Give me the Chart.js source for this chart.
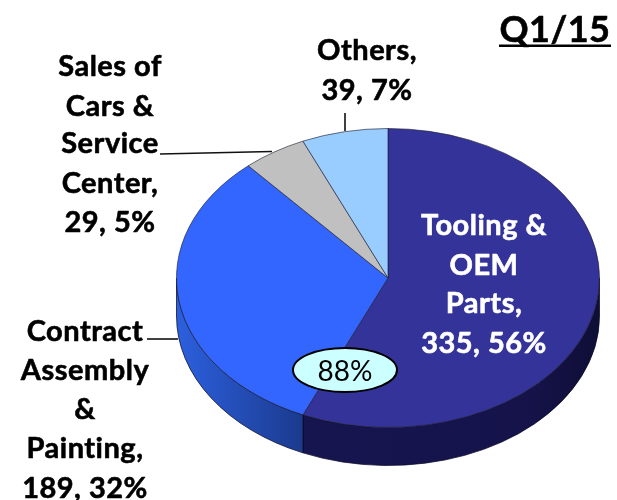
<!DOCTYPE html>
<html><head><meta charset="utf-8">
<style>html,body{margin:0;padding:0;background:#fff}canvas{display:block;filter:blur(0.45px)}</style>
<script src="https://cdn.jsdelivr.net/npm/chart.js@4"></script>
</head><body><canvas id="c" width="617" height="500"></canvas>
<script>
const categories = ['Tooling & OEM Parts','Contract Assembly & Painting','Sales of Cars & Service Center','Others'];
const values = [335,189,29,39];
const percents = [56,32,5,7];
const sliceColors = ['#333399','#3366ff','#c0c0c0','#99ccff'];
const toolingLines = ['Tooling &','OEM','Parts,'];
const contractLines = ['Contract','Assembly','&','Painting,'];
const salesLines = ['Sales of','Cars &','Service','Center,'];
const othersLines = ['Others,'];
const periodLabel = 'Q1/15';
const badgeLabel = '88%';

const FACE = {cy:278, ry:149.5, depth:38};
const FONT = '"Lato","Carlito","Open Sans",sans-serif';

function valueLine(i){ return values[i]+', '+percents[i]+'%'; }

const pie3d = {
  id:'pie3d',
  beforeDatasetDraw(chart){
    const arcs = chart.getDatasetMeta(0).data, a0 = arcs[0], ctx = chart.ctx;
    const cx=a0.x, cy0=a0.y, rx=a0.outerRadius, k=FACE.ry/rx;
    ctx.save();
    const hw = (a1,a2,fill)=>{
      ctx.beginPath();
      ctx.ellipse(cx,FACE.cy,rx,FACE.ry,0,a1,a2);
      ctx.ellipse(cx,FACE.cy+FACE.depth,rx,FACE.ry,0,a2,a1,true);
      ctx.closePath();
      ctx.fillStyle=fill; ctx.fill();
      ctx.lineWidth=1; ctx.strokeStyle='rgba(10,10,40,.75)'; ctx.stroke();
    };
    const sep = arcs[0].endAngle;
    const g1 = ctx.createLinearGradient(cx+rx,0,cx-rx*0.4,0);
    g1.addColorStop(0,'#0f0e36'); g1.addColorStop(.25,'#15134a'); g1.addColorStop(1,'#17154f');
    hw(0,sep,g1);
    const g2 = ctx.createLinearGradient(cx-rx,0,cx-rx*0.4,0);
    g2.addColorStop(0,'#2c60de'); g2.addColorStop(1,'#1b3a8e');
    hw(sep,Math.PI,g2);
    ctx.restore();
    ctx.save();
    ctx.translate(0,FACE.cy); ctx.scale(1,k); ctx.translate(0,-cy0);
  },
  afterDatasetDraw(chart){ chart.ctx.restore(); },
  afterDraw(chart){
    const ctx=chart.ctx;
    ctx.save();
    ctx.strokeStyle='#111'; ctx.lineWidth=1.6;
    [[345,113,345,131],[160,154,272,151.5],[147,339,178,339]].forEach(l=>{
      ctx.beginPath();ctx.moveTo(l[0],l[1]);ctx.lineTo(l[2],l[3]);ctx.stroke();
    });
    ctx.beginPath(); ctx.ellipse(345,370,52,22,0,0,Math.PI*2);
    ctx.fillStyle='#ccffff'; ctx.fill(); ctx.lineWidth=2; ctx.strokeStyle='#000'; ctx.stroke();
    ctx.textAlign='center'; ctx.textBaseline='alphabetic';
    ctx.fillStyle='#000'; ctx.font='28px '+FONT;
    ctx.fillText(badgeLabel,345,381);
    const block=(lines,x,ys,color)=>{
      ctx.fillStyle=color; ctx.strokeStyle=color; ctx.lineWidth=0.6; ctx.lineJoin='round';
      ctx.font='bold 29px '+FONT; ctx.letterSpacing='0.5px';
      lines.forEach((t,i)=>{ctx.fillText(t,x,ys[i]);ctx.strokeText(t,x,ys[i]);});
    };
    block([...toolingLines,valueLine(0)],484,[235,275,313,353],'#fff');
    block([...contractLines,valueLine(1)],85,[341,380,419,458,498],'#000');
    block([...salesLines,valueLine(2)],110,[76,116,153,193,232],'#000');
    block([...othersLines,valueLine(3)],367,[60,100],'#000');
    ctx.font='bold 36px '+FONT; ctx.fillStyle='#000'; ctx.letterSpacing='0.5px';
    ctx.fillText(periodLabel,555,42);
    ctx.strokeStyle='#000'; ctx.strokeText(periodLabel,555,42);
    ctx.fillRect(499,44.5,112,2.5);
    ctx.restore();
  }
};

new Chart(document.getElementById('c'),{
  type:'pie',
  data:{labels:categories,datasets:[{data:values,backgroundColor:sliceColors,borderColor:'rgba(30,30,50,.75)',borderWidth:1}]},
  options:{
    responsive:false,animation:false,
    layout:{padding:{left:176,right:17,top:30,bottom:46}},
    plugins:{legend:{display:false},tooltip:{enabled:false},title:{display:false}}
  },
  plugins:[pie3d]
});
</script></body></html>
